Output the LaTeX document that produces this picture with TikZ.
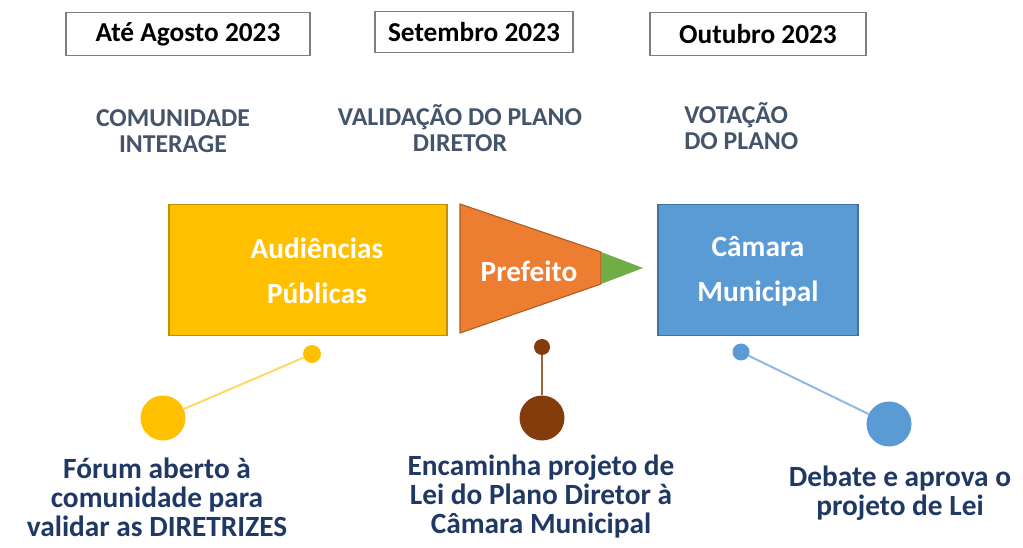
\documentclass[tikz,border=0pt]{standalone}
\usepackage{fontspec}
\setmainfont{Carlito}
\usetikzlibrary{positioning}
\definecolor{yel}{HTML}{FFC000}
\definecolor{yelb}{HTML}{BF9000}
\definecolor{yell}{HTML}{FFD966}
\definecolor{org}{HTML}{ED7D31}
\definecolor{orgb}{HTML}{AE5A21}
\definecolor{grn}{HTML}{70AD47}
\definecolor{blu}{HTML}{5B9BD5}
\definecolor{blub}{HTML}{41719C}
\definecolor{blul}{HTML}{8FB9E2}
\definecolor{brn}{HTML}{843C0C}
\definecolor{cat}{HTML}{44546A}
\definecolor{navy}{HTML}{1F3864}
\definecolor{boxb}{HTML}{7F7F7F}
\tikzset{
  datebox/.style={draw=boxb, line width=0.8pt, fill=white, inner sep=0pt, font=\bfseries\fontsize{20.5}{24}\selectfont},
  cattext/.style={text=cat, font=\bfseries\fontsize{19.3}{19.5}\selectfont, align=center, inner sep=0pt},
  whitetext/.style={text=white, font=\bfseries\fontsize{22}{33.5}\selectfont, align=center, inner sep=0pt},
  bottext/.style={text=navy, font=\bfseries\fontsize{22}{21.75}\selectfont, align=center, inner sep=0pt},
  dot/.style={circle, inner sep=0pt, minimum size=#1}
}
\begin{document}
\begin{tikzpicture}[x=0.75pt,y=-0.75pt]
\useasboundingbox (0,0) rectangle (1023,548);
% date boxes
\node[datebox, minimum width=183pt, minimum height=32pt] (d1) at (188,34) {Até Agosto 2023};
\node[datebox, minimum width=148.5pt, minimum height=30.75pt] (d2) at (474,32) {Setembro 2023};
\node[datebox, minimum width=162pt, minimum height=32pt] (d3) at (758,34) {Outubro 2023};
% category labels
\node[cattext] (c1) at (173,131) {COMUNIDADE\\INTERAGE};
\node[cattext] (c2) at (460,128) {VALIDAÇÃO DO PLANO\\DIRETOR};
\node[cattext, align=left, anchor=west] (c3) at (684,126) {VOTAÇÃO\\DO PLANO};
% yellow box
\node[draw=yelb, fill=yel, line width=0.8pt, minimum width=208.5pt, minimum height=98pt, inner sep=0pt] (yb) at (308,270) {};
\node[whitetext] (yt) at (317,271) {Audiências\\Públicas};
% orange triangle and green tip
\coordinate (o1) at (460,204);
\coordinate (o2) at (601,252);
\coordinate (o3) at (601,284);
\coordinate (o4) at (460,333);
\coordinate (gt) at (643,268);
\fill[org, draw=orgb, line width=0.8pt] (o1) -- (o2) -- (o3) -- (o4) -- cycle;
\fill[grn] (o2) -- (gt) -- (o3) -- cycle;
\node[whitetext] (pt) at (529,271) {Prefeito};
% blue box
\node[draw=blub, fill=blu, line width=0.8pt, minimum width=150pt, minimum height=98pt, inner sep=0pt] (bb) at (758,270) {};
\node[whitetext] (bt) at (758,271) {Câmara\\Municipal};
% dots
\node[dot=13.5pt, fill=yel] (ys) at (312,354) {};
\node[dot=33.75pt, fill=yel] (yl) at (163,418) {};
\draw[yell, line width=1.5pt] (ys) -- (yl);
\node[dot=12pt, fill=brn] (bs) at (542,347) {};
\node[dot=33.75pt, fill=brn] (bl) at (542,418) {};
\draw[brn!80, line width=0.8pt] (bs) -- (bl);
\node[dot=12.75pt, fill=blu] (us) at (741,352) {};
\node[dot=33.75pt, fill=blu] (ul) at (889,424) {};
\draw[blul, line width=1.5pt] (us) -- (ul);
% bottom texts
\node[bottext] (t1) at (157,497) {Fórum aberto à\\comunidade para\\validar as DIRETRIZES};
\node[bottext] (t2) at (541,497) {Encaminha projeto de\\Lei do Plano Diretor à\\Câmara Municipal};
\node[bottext] (t3) at (900,493) {Debate e aprova o\\projeto de Lei};
\end{tikzpicture}
\end{document}
